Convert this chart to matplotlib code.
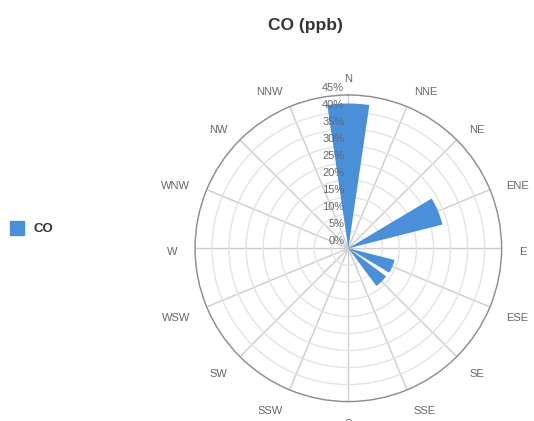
import numpy as np
import matplotlib
matplotlib.use("Agg")
import matplotlib.pyplot as plt
from matplotlib.transforms import offset_copy

directions = ['N', 'NNE', 'NE', 'ENE', 'E', 'ESE', 'SE', 'SSE',
              'S', 'SSW', 'SW', 'WSW', 'W', 'WNW', 'NW', 'NNW']
co_pct = [42.5, 0, 0, 28.5, 0, 14, 13.8, 0, 0, 0, 0, 0, 0, 0, 0, 0]
r_ticks = [0, 5, 10, 15, 20, 25, 30, 35, 40, 45]

plt.rcParams['font.family'] = ['Liberation Sans', 'DejaVu Sans']

fig = plt.figure(figsize=(5.34, 4.21), dpi=100)
ax = fig.add_axes([0.3652, 0.0461, 0.5742, 0.7283], projection='polar')
ax.set_theta_zero_location('N')
ax.set_theta_direction(-1)

theta = np.deg2rad(np.arange(len(directions)) * 22.5)
ax.bar(theta, co_pct, width=np.deg2rad(16.7), color='#4a90d9',
       edgecolor='none', zorder=3)

ax.set_ylim(0, 45)
ax.set_yticks(r_ticks[1:])
ax.set_yticklabels([])
ax.set_xticks(theta)
ax.set_xticklabels([])
ax.yaxis.grid(True, color='#e3e3e3', linewidth=1)
ax.xaxis.grid(True, color='#cccccc', linewidth=1)
ax.spines['polar'].set_color('#8c8c8c')
ax.spines['polar'].set_linewidth(1)

# direction labels, aligned away from the circle
for t, name in zip(theta, directions):
    s = np.sin(t)
    ha = 'left' if s > 0.01 else ('right' if s < -0.01 else 'center')
    dy = -(2 + 1.5 * (1 - np.cos(t)))
    tr = offset_copy(ax.transData, fig=fig, x=0, y=dy, units='dots')
    ax.text(t, 50.2, name, transform=tr, ha=ha, va='center',
            color='#666666', fontsize=8, clip_on=False)

# radial labels along the north spoke
trans = offset_copy(ax.transData, fig=fig, x=-4, y=2, units='dots')
for r in r_ticks:
    ax.text(0, r, '{}%'.format(r), transform=trans, ha='right', va='bottom',
            color='#666666', fontsize=8, clip_on=False, zorder=5)

fig.text(0.572, 0.94, 'CO (ppb)', ha='center', va='center',
         fontsize=12.5, fontweight='bold', color='#333333')

# legend
fig.patches.append(plt.Rectangle((10 / 534, 1 - 235 / 421), 14 / 534, 14 / 421,
                                 transform=fig.transFigure, color='#4a90d9',
                                 figure=fig))
fig.text(34 / 534, 1 - 229 / 421, 'CO', ha='left', va='center',
         fontsize=9.5, fontweight='bold', color='#333333')

fig.savefig('out.png', dpi=100)
